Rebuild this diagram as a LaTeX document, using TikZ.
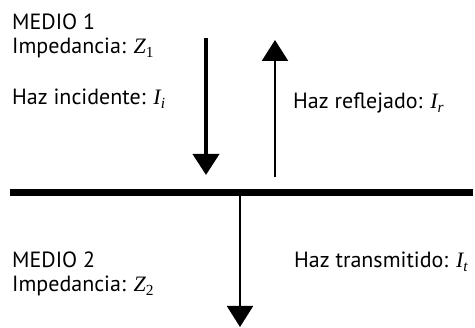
\documentclass[tikz,border=0pt]{standalone}
\usepackage{fontspec}
\setmainfont{PT Sans}
\newfontfamily\tms{Liberation Serif}
\usetikzlibrary{arrows.meta}
\newcommand{\mv}[2]{{\tms\itshape #1}{\tms\textsubscript{#2}}}
\newcommand{\mvi}[2]{{\tms\itshape #1\textsubscript{#2}}}
\newcommand{\lblfont}{\fontsize{22pt}{24pt}\selectfont}
\tikzset{
  lbl/.style={anchor=base west, inner sep=0pt, font=\lblfont, align=left},
  beam/.style={line width=#1, -{Triangle[width=26pt,length=21pt]}},
  beam/.default=2pt,
  iface/.style={line width=7pt}
}
\begin{document}
\begin{tikzpicture}[x=1pt,y=-1pt]
\useasboundingbox (0,0) rectangle (475,328);
\fill[white] (0,0) rectangle (475,328);
% interface
\coordinate (L) at (10,192.5);
\coordinate (R) at (473,192.5);
\draw[iface] (L) -- (R);
% beams
\coordinate (i0) at (206,38);
\coordinate (i1) at (206,175);
\draw[beam=4pt] (i0) -- (i1);
\coordinate (r0) at (275,177);
\coordinate (r1) at (275,40);
\draw[beam=2.4pt] (r0) -- (r1);
\coordinate (t0) at (240,196);
\coordinate (t1) at (240,327);
\draw[beam=2pt] (t0) -- (t1);
% labels (base anchor = baseline of last line)
\node[lbl] (m1) at (12,54) {MEDIO 1\\Impedancia: \mv{Z}{1}};
\node[lbl] (hi) at (12,105) {Haz incidente: \mvi{I}{i}};
\node[lbl] (hr) at (293,109) {Haz reflejado: \mvi{I}{r}};
\node[lbl] (m2) at (12,292) {MEDIO 2\\Impedancia: \mv{Z}{2}};
\node[lbl] (ht) at (294,268) {Haz transmitido: \mvi{I}{t}};
\end{tikzpicture}
\end{document}
